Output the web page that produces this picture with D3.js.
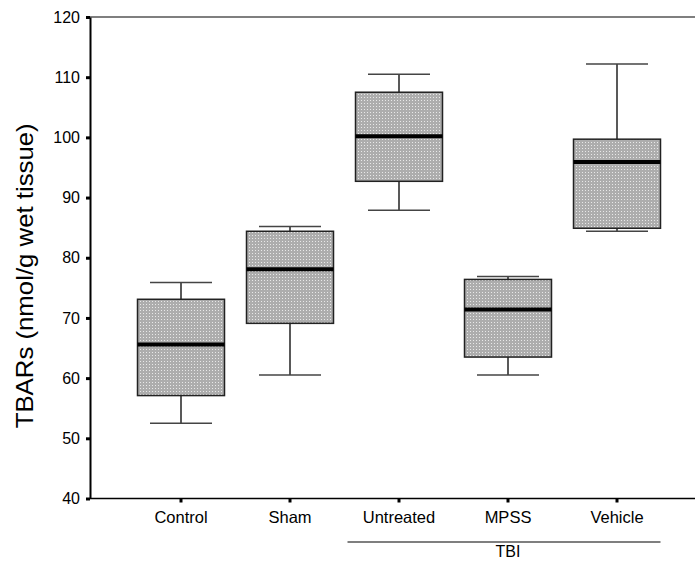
<!DOCTYPE html>
<html>
<head>
<meta charset="utf-8">
<script src="https://cdn.jsdelivr.net/npm/d3@7"></script>
<style>
  body { margin: 0; background: #fff; }
  text { font-family: "Liberation Sans", Arial, sans-serif; fill: #000; }
</style>
</head>
<body>
<div id="chart"></div>
<script>
// data
var groups   = ["Control", "Sham", "Untreated", "MPSS", "Vehicle"];
var whiskLo  = [52.5, 60.5, 87.9, 60.5, 84.4];
var q1       = [57.1, 69.1, 92.7, 63.5, 84.9];
var medians  = [65.6, 78.1, 100.2, 71.4, 95.9];
var q3       = [73.1, 84.4, 107.5, 76.4, 99.7];
var whiskHi  = [75.9, 85.2, 110.5, 76.9, 112.2];
var yTicks   = [40, 50, 60, 70, 80, 90, 100, 110, 120];
var tbiGroups = ["Untreated", "MPSS", "Vehicle"];

var W = 695, H = 561;
var margin = { top: 17, left: 90, bottom: 62 };

var svg = d3.select("#chart").append("svg")
    .attr("width", W).attr("height", H);

// dotted grey fill like the original
var pat = svg.append("defs").append("pattern")
    .attr("id", "dots").attr("patternUnits", "userSpaceOnUse")
    .attr("width", 3).attr("height", 3);
pat.append("rect").attr("width", 3).attr("height", 3).attr("fill", "#adadad");
pat.append("rect").attr("x", 1).attr("y", 1).attr("width", 1).attr("height", 1).attr("fill", "#e8e8e8");

var y = d3.scaleLinear().domain([40, 120]).range([H - margin.bottom - 0.5, margin.top]);
var x = d3.scaleBand().domain(groups).range([126.5, 671.5]).padding(0);
var cx = function(g) { return x(g) + x.bandwidth() / 2; };

var data = groups.map(function(g, i) {
  return { g: g, lo: whiskLo[i], q1: q1[i], med: medians[i], q3: q3[i], hi: whiskHi[i] };
});

// top frame line
svg.append("line").attr("x1", margin.left).attr("x2", W)
    .attr("y1", y(120)).attr("y2", y(120)).attr("stroke", "#000").attr("stroke-width", 1.2);

// y axis
var yAxis = svg.append("g")
    .attr("transform", "translate(" + margin.left + ",0)")
    .call(d3.axisLeft(y).tickValues(yTicks).tickSize(4).tickSizeOuter(0).tickPadding(6));
yAxis.select(".domain").attr("stroke-width", 2);
yAxis.selectAll(".tick line").attr("stroke-width", 3);
yAxis.selectAll(".tick text").style("font-size", "16px");

// x axis
var xAxis = svg.append("g")
    .attr("transform", "translate(0," + y(40) + ")")
    .call(d3.axisBottom(x).tickSize(4).tickSizeOuter(0).tickPadding(9));
xAxis.select(".domain").attr("d", "M" + margin.left + ",0H" + W).attr("stroke-width", 1.5);
xAxis.selectAll(".tick line").attr("stroke-width", 3);
xAxis.selectAll(".tick text").style("font-size", "16.5px");

// y label
svg.append("text")
    .attr("transform", "translate(33," + y(77) + ") rotate(-90)")
    .attr("text-anchor", "middle")
    .style("font-size", "24px")
    .attr("textLength", 305).attr("lengthAdjust", "spacingAndGlyphs")
    .text("TBARs (nmol/g wet tissue)");

// TBI bracket under the three injured groups
svg.append("line")
    .attr("x1", cx(tbiGroups[0]) - 51.5).attr("x2", cx(tbiGroups[2]) + 43.5)
    .attr("y1", 542).attr("y2", 542).attr("stroke", "#000").attr("stroke-width", 1.2);
svg.append("text")
    .attr("x", cx(tbiGroups[1])).attr("y", 557)
    .attr("text-anchor", "middle").style("font-size", "16px").text("TBI");

// boxes
var boxW = 87, capW = 62;
var bx = svg.append("g").selectAll("g").data(data).join("g")
    .attr("transform", function(d) { return "translate(" + cx(d.g) + ",0)"; });

bx.append("line").attr("x1", 0).attr("x2", 0)
    .attr("y1", function(d) { return y(d.hi); }).attr("y2", function(d) { return y(d.q3); })
    .attr("stroke", "#222").attr("stroke-width", 1.5);
bx.append("line").attr("x1", 0).attr("x2", 0)
    .attr("y1", function(d) { return y(d.lo); }).attr("y2", function(d) { return y(d.q1); })
    .attr("stroke", "#222").attr("stroke-width", 1.5);
bx.append("line").attr("x1", -capW / 2).attr("x2", capW / 2)
    .attr("y1", function(d) { return y(d.hi); }).attr("y2", function(d) { return y(d.hi); })
    .attr("stroke", "#444").attr("stroke-width", 1.5);
bx.append("line").attr("x1", -capW / 2).attr("x2", capW / 2)
    .attr("y1", function(d) { return y(d.lo); }).attr("y2", function(d) { return y(d.lo); })
    .attr("stroke", "#444").attr("stroke-width", 1.5);
bx.append("rect")
    .attr("x", -boxW / 2).attr("width", boxW)
    .attr("y", function(d) { return y(d.q3); })
    .attr("height", function(d) { return y(d.q1) - y(d.q3); })
    .attr("fill", "url(#dots)").attr("stroke", "#222").attr("stroke-width", 1.5);
bx.append("line").attr("x1", -boxW / 2).attr("x2", boxW / 2)
    .attr("y1", function(d) { return y(d.med); }).attr("y2", function(d) { return y(d.med); })
    .attr("stroke", "#000").attr("stroke-width", 4);
</script>
</body>
</html>
